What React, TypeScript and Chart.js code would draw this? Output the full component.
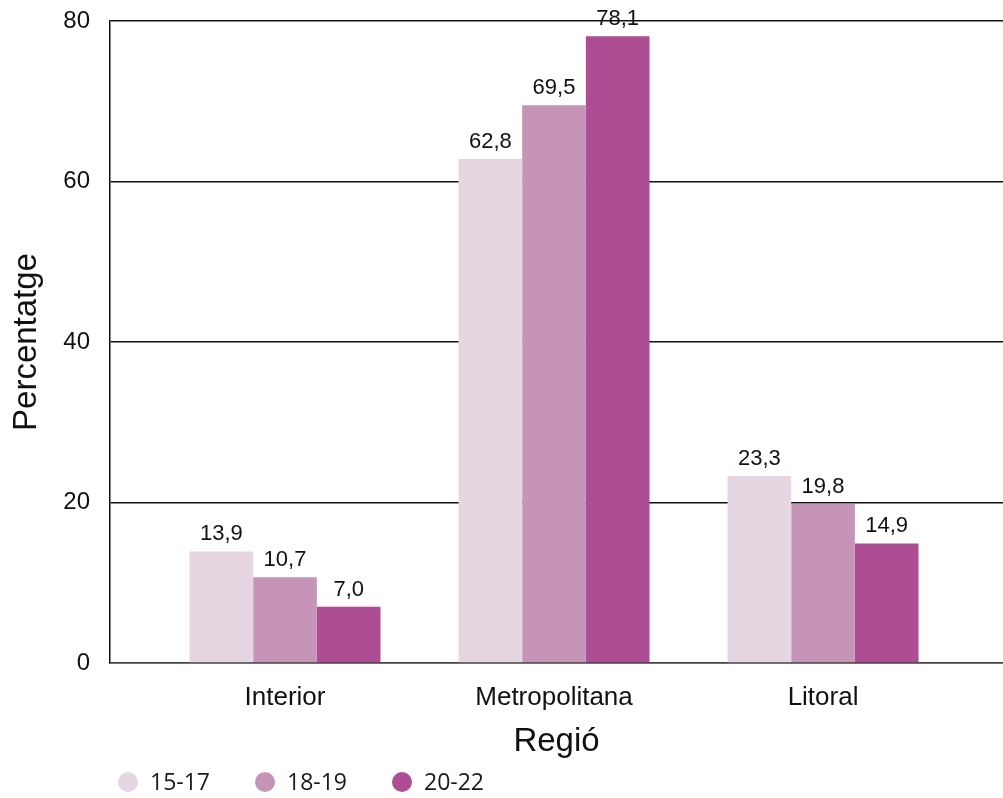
import React, { useEffect, useRef } from "react";
import { Chart, registerables } from "chart.js";

Chart.register(...registerables);

const categories = ["Interior", "Metropolitana", "Litoral"];
const seriesLabels = ["15-17", "18-19", "20-22"];
const values1517 = [13.9, 62.8, 23.3];
const values1819 = [10.7, 69.5, 19.8];
const values2022 = [7.0, 78.1, 14.9];
const seriesColors = ["#E6D6E2", "#C594B7", "#AD4E95"];
const yTicks = [0, 20, 40, 60, 80];

const SANS = "'Liberation Sans', Arial, Helvetica, sans-serif";

const toPoints = (vals: number[]) => vals.map((v, i) => ({ x: i, y: v }));
const fmt = (v: number) => v.toFixed(1).replace(".", ",");

const valueLabelPlugin = {
  id: "valueLabels",
  afterDatasetsDraw(chart: any) {
    const ctx = chart.ctx;
    ctx.save();
    ctx.font = `22px ${SANS}`;
    ctx.fillStyle = "#111";
    ctx.textAlign = "center";
    ctx.textBaseline = "alphabetic";
    chart.data.datasets.forEach((ds: any, di: number) => {
      const meta = chart.getDatasetMeta(di);
      meta.data.forEach((el: any, i: number) => {
        const v = ds.data[i].y;
        ctx.fillText(fmt(v), el.x, el.y - 11);
      });
    });
    ctx.restore();
  },
};

const customLegendPlugin = {
  id: "customLegend",
  afterDraw(chart: any) {
    const ctx = chart.ctx;
    ctx.save();
    ctx.font = `23px 'Open Sans', ${SANS}`;
    ctx.textBaseline = "middle";
    ctx.textAlign = "left";
    let cx = 128;
    const cy = 782;
    chart.data.datasets.forEach((ds: any) => {
      ctx.fillStyle = ds.backgroundColor;
      ctx.beginPath();
      ctx.arc(cx, cy, 10, 0, Math.PI * 2);
      ctx.fill();
      ctx.fillStyle = "#1a1a1a";
      const tx = cx + 22;
      ctx.fillText(ds.label, tx, cy + 1);
      cx = tx + ctx.measureText(ds.label).width + 55;
    });
    ctx.restore();
  },
};

export default function App() {
  const canvasRef = useRef<HTMLCanvasElement | null>(null);

  useEffect(() => {
    document.body.style.margin = "0";
    const canvas = canvasRef.current;
    if (!canvas) return;
    const seriesValues = [values1517, values1819, values2022];
    const chart = new Chart(canvas, {
      type: "bar",
      data: {
        datasets: seriesLabels.map((label, i) => ({
          label,
          data: toPoints(seriesValues[i]),
          backgroundColor: seriesColors[i],
          borderWidth: 0,
          categoryPercentage: 0.71,
          barPercentage: 1,
        })),
      },
      options: {
        responsive: false,
        animation: false,
        devicePixelRatio: 1,
        layout: { padding: { top: 21, left: 0, right: 0, bottom: 35 } },
        plugins: {
          legend: { display: false },
          tooltip: { enabled: false },
        },
        scales: {
          x: {
            type: "linear",
            offset: false,
            bounds: "data",
            min: -0.6506,
            max: 2.669,
            afterBuildTicks: (axis: any) => {
              axis.ticks = categories.map((_, i) => ({ value: i }));
            },
            afterFit: (axis: any) => {
              axis.height = 100;
            },
            grid: { display: false, drawTicks: false, tickLength: 0, offset: false },
            border: { display: true, color: "#444", width: 1.5 },
            ticks: {
              padding: 19,
              color: "#111",
              font: { family: SANS, size: 26 },
              callback: (v: any) => categories[v] ?? "",
              maxRotation: 0,
              autoSkip: false,
            },
            title: {
              display: true,
              text: "Regió",
              color: "#111",
              font: { family: SANS, size: 33 },
              padding: { top: 0, bottom: 1 },
            },
          },
          y: {
            min: 0,
            max: 80,
            afterBuildTicks: (axis: any) => {
              axis.ticks = yTicks.map((v) => ({ value: v }));
            },
            afterFit: (axis: any) => {
              axis.width = 110;
            },
            grid: {
              drawTicks: true,
              tickLength: 20,
              tickColor: "rgba(0,0,0,0)",
              color: (c: any) => (c.tick && c.tick.value === 0 ? "#444" : "#111"),
              lineWidth: 1.5,
            },
            border: { display: true, color: "#111", width: 1.5 },
            ticks: {
              padding: 0,
              color: "#111",
              font: { family: SANS, size: 24 },
            },
            title: {
              display: true,
              text: "Percentatge",
              color: "#111",
              font: { family: SANS, size: 33 },
              padding: { top: 7, bottom: 0 },
            },
          },
        },
      },
      plugins: [valueLabelPlugin, customLegendPlugin],
    } as any);
    return () => chart.destroy();
  }, []);

  return (
    <div style={{ width: 1003, height: 798 }}>
      <canvas ref={canvasRef} width={1003} height={798} style={{ display: "block" }} />
    </div>
  );
}
